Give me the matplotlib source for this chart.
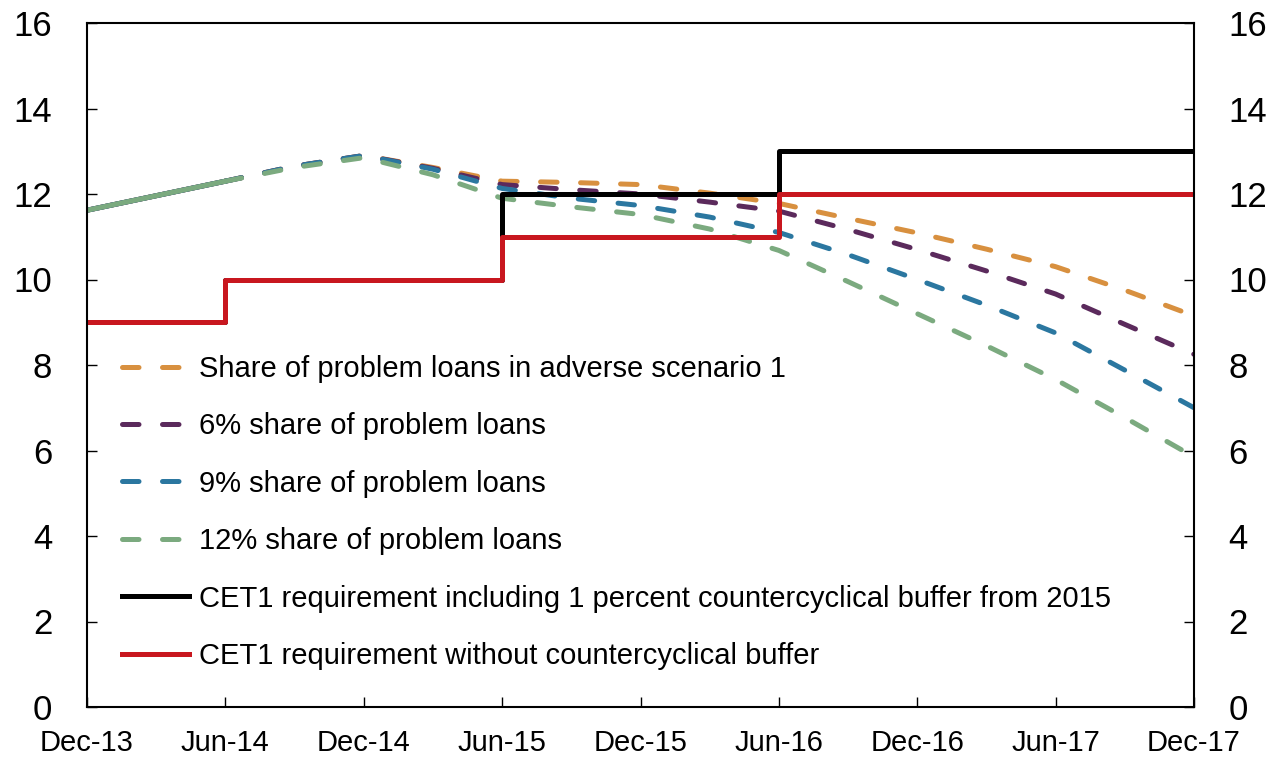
import matplotlib
matplotlib.use("Agg")
import matplotlib.pyplot as plt
import numpy as np

plt.rcParams['font.family'] = ['Liberation Sans', 'DejaVu Sans']

# Quarterly observations, Dec-13 to Dec-17
quarters = np.arange(17)
tick_labels = ['Dec-13', 'Jun-14', 'Dec-14', 'Jun-15', 'Dec-15',
               'Jun-16', 'Dec-16', 'Jun-17', 'Dec-17']
hist_end = 2  # last actual observation (Jun-14), projections after

adverse_1 = [11.62, 11.96, 12.3, 12.65, 12.9, 12.62, 12.3, 12.27, 12.22,
             12.02, 11.78, 11.43, 11.09, 10.71, 10.3, 9.75, 9.15]
share_6 = [11.62, 11.96, 12.3, 12.65, 12.9, 12.6, 12.22, 12.1, 12.0,
           11.81, 11.6, 11.17, 10.7, 10.2, 9.66, 8.95, 8.25]
share_9 = [11.62, 11.96, 12.3, 12.65, 12.9, 12.58, 12.13, 11.9, 11.73,
           11.46, 11.1, 10.58, 10.0, 9.4, 8.75, 7.88, 7.0]
share_12 = [11.62, 11.96, 12.3, 12.62, 12.85, 12.45, 11.9, 11.7, 11.52,
            11.18, 10.68, 9.95, 9.2, 8.45, 7.66, 6.77, 5.85]

cet1_buffer = [9, 9, 10, 10, 10, 10, 12, 12, 12, 12, 13, 13, 13, 13, 13, 13, 13]
cet1_no_buffer = [9, 9, 10, 10, 10, 10, 11, 11, 11, 11, 12, 12, 12, 12, 12, 12, 12]

series = [
    (adverse_1, '#D8903F', 'Share of problem loans in adverse scenario 1'),
    (share_6, '#5B2A5C', '6% share of problem loans'),
    (share_9, '#2B77A0', '9% share of problem loans'),
    (share_12, '#7BAA7F', '12% share of problem loans'),
]

fig = plt.figure(figsize=(12.71, 7.57), dpi=100)
ax = fig.add_axes([87 / 1271, 1 - 707 / 757, 1107 / 1271, 684 / 757])

lw = 3.6
for values, color, label in series:
    ax.plot(quarters[:hist_end + 1], values[:hist_end + 1], color=color,
            lw=lw, solid_capstyle='round')
    ax.plot(quarters[hist_end:], values[hist_end:], color=color, lw=lw,
            ls=(0, (3.3, 4.7)), dash_capstyle='round', label=label)

ax.plot(quarters, cet1_buffer, color='black', lw=lw, drawstyle='steps-post',
        label='CET1 requirement including 1 percent countercyclical buffer from 2015')
ax.plot(quarters, cet1_no_buffer, color='#C8171F', lw=lw, drawstyle='steps-post',
        label='CET1 requirement without countercyclical buffer')

ax.set_xlim(0, 16)
ax.set_ylim(0, 16)
ax.set_xticks(quarters[::2])
ax.set_xticklabels(tick_labels)
ax.set_yticks(np.arange(0, 17, 2))

ax.tick_params(axis='x', direction='in', length=7, width=1, labelsize=21, pad=16)
ax.tick_params(axis='y', direction='in', length=7, width=1, labelsize=25, pad=25,
               right=True, labelright=True)
for spine in ax.spines.values():
    spine.set_linewidth(1.5)

leg = ax.legend(loc='upper left', bbox_to_anchor=(0.0316, 0.515), fontsize=21,
                frameon=False, borderpad=0, borderaxespad=0, handlelength=2.3,
                handletextpad=0.35, labelspacing=1.01)

fig.savefig('out.png', dpi=100)
